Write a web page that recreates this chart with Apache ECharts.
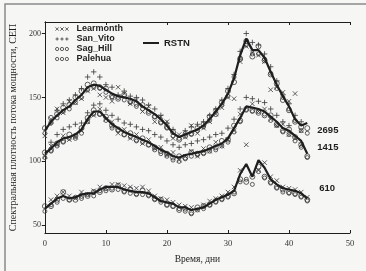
<!DOCTYPE html>
<html>
<head>
<meta charset="utf-8">
<title>RSTN</title>
<script src="https://cdn.jsdelivr.net/npm/echarts/dist/echarts.min.js"></script>
<style>
html,body{margin:0;padding:0;background:#f6f6f4;}
#chart1{width:366px;height:271px;}
</style>
</head>
<body>
<div id="chart1"></div>
<script type="text/javascript">
// день наблюдения
var days = [0,1,2,3,4,5,6,7,8,9,10,11,12,13,14,15,16,17,18,19,20,21,
            22,23,24,25,26,27,28,29,30,31,32,33,34,35,36,37,38,39,40,41,42,43];
var bands = ['2695', '1415', '610'];
var xTicks = [0, 10, 20, 30, 40, 50];
var yTicks = [50, 100, 150, 200];

// RSTN (сплошные линии)
var rstn2695 = [124,131,136,140,143,148,152,158,160,159,156,153,151,150,149,147,143,140,137,133,128,122,
                119,121,123,125,128,133,139,145,153,165,183,196,187,187,181,170,160,151,143,133,128,130];
var rstn1415 = [106,110,115,118,119,121,125,133,139,139,134,129,126,123,121,119,117,115,112,109,107,104,
                103,105,106,107,108,110,112,114,118,126,134,143,142,141,139,135,131,126,124,120,116,106];
var rstn610  = [63,67,71,73,71,72,74,75,75,78,80,80,80,78,77,76,76,75,72,69,68,67,
                64,64,62,63,64,67,70,72,74,77,90,98,88,101,95,86,82,79,78,77,75,71];

// Learmonth
var learmonth2695 = [120,133,141,138,147,146,149,155,157,152,150,147,158,153,145,148,139,143,131,135,131,118,
                     121,119,128,122,126,131,137,142,150,149,178,190,185,183,178,156,158,154,147,153,124,null];
var learmonth1415 = [104,112,113,120,117,119,124,131,136,141,133,131,122,125,118,121,114,117,110,111,105,107,
                     101,104,108,104,110,108,115,112,117,124,137,113,145,139,141,133,128,129,121,118,113,null];
var learmonth610  = [null,70,73,76,73,71,76,74,77,80,79,82,82,81,80,79,80,77,73,71,70,68,
                     66,65,64,62,66,69,71,73,76,80,93,null,null,93,99,88,85,80,79,78,76,72];
// San_Vito
var sanvito2695 = [null,130,140,145,148,152,157,166,170,166,160,158,152,155,151,150,148,144,141,136,130,125,
                   null,124,127,129,131,136,141,148,157,168,186,200,193,191,184,174,163,152,145,136,131,null];
var sanvito1415 = [null,115,121,125,127,129,130,138,144,145,140,136,133,130,129,127,125,124,121,119,116,113,
                   111,113,114,116,117,119,121,122,126,133,141,150,149,147,146,141,136,131,128,null,null,null];
// Sag_Hill
var saghill2695 = [126,134,137,142,144,150,155,160,161,158,157,151,149,152,147,145,144,138,135,131,127,123,
                   117,120,122,126,129,135,137,146,155,162,180,194,182,190,179,168,161,148,140,131,127,126];
var saghill1415 = [107,109,114,116,121,120,126,134,140,137,135,128,125,121,122,117,118,113,111,108,106,103,
                   104,103,107,106,107,111,111,116,117,128,132,141,140,138,136,136,129,124,125,119,113,104];
var saghill610  = [65,65,70,76,70,70,73,73,76,76,79,78,81,77,78,75,77,74,71,70,66,65,
                   62,63,60,64,65,66,69,71,73,75,86,84,88,96,88,84,80,78,76,75,73,70];
// Palehua
var palehua2695 = [122,130,134,139,141,146,150,156,158,157,154,150,150,148,146,143,141,139,135,130,126,120,
                   118,122,121,124,127,132,140,144,151,166,181,191,184,184,180,169,157,150,141,132,124,122];
var palehua1415 = [103,108,112,115,118,118,122,131,137,137,132,126,124,121,119,116,115,113,109,106,104,101,
                   100,102,104,105,106,108,109,112,115,123,131,140,139,139,137,132,128,123,121,116,111,103];
var palehua610  = [61,66,68,71,70,72,71,74,73,77,77,79,78,76,75,74,74,73,70,68,66,65,
                   63,61,59,62,63,66,68,70,72,76,84,86,82,92,87,83,79,76,75,74,72,69];

function pairs(vals) {
    var out = [];
    for (var i = 0; i < vals.length; i++) {
        if (vals[i] != null) out.push([days[i], vals[i]]);
    }
    return out;
}

var ink = '#1e1e1e';
var markInk = '#3a3a3a';
var serif = '"Liberation Serif", "DejaVu Serif", serif';
var sans = '"Liberation Sans", Arial, sans-serif';

var crossPath = 'path://M0,0L10,10M10,0L0,10';
var plusPath = 'path://M5,0L5,10M0,5L10,5';
var cross3 = 'path://M0,0L4,4M4,0L0,4M6,0L10,4M10,0L6,4M12,0L16,4M16,0L12,4';
var plus3 = 'path://M2,0L2,4M0,2L4,2M8,0L8,4M6,2L10,2M14,0L14,4M12,2L16,2';
var circ3 = 'path://M0,2A2,2,0,1,1,4,2A2,2,0,1,1,0,2ZM6,2A2,2,0,1,1,10,2A2,2,0,1,1,6,2ZM12,2A2,2,0,1,1,16,2A2,2,0,1,1,12,2Z';

var markStyle = {color: 'transparent', borderColor: markInk, borderWidth: 1};

var stations = [
    {name: 'Learmonth', symbol: crossPath, size: 4.5, icon: cross3,
     data: pairs(learmonth2695).concat(pairs(learmonth1415), pairs(learmonth610))},
    {name: 'San_Vito', symbol: plusPath, size: 5.5, icon: plus3,
     data: pairs(sanvito2695).concat(pairs(sanvito1415))},
    {name: 'Sag_Hill', symbol: 'circle', size: 5, icon: circ3,
     data: pairs(saghill2695).concat(pairs(saghill1415), pairs(saghill610))},
    {name: 'Palehua', symbol: 'circle', size: 4, icon: circ3,
     data: pairs(palehua2695).concat(pairs(palehua1415), pairs(palehua610))}
];

var series = [];
stations.forEach(function (s) {
    series.push({
        name: s.name, type: 'scatter', symbol: s.symbol, symbolSize: s.size,
        itemStyle: markStyle, data: s.data, silent: true, z: 2
    });
});

var lines = [rstn2695, rstn1415, rstn610];
var labelShift = [[2, 7], [2, -6], [4, -10]];
lines.forEach(function (vals, k) {
    series.push({
        name: 'RSTN', type: 'line', symbol: 'none', data: pairs(vals), z: 3,
        lineStyle: {color: ink, width: 2.2}, itemStyle: {color: ink},
        endLabel: {show: true, formatter: bands[k], offset: labelShift[k],
                   fontFamily: sans, fontWeight: 'bold', fontSize: 9.5, color: ink}
    });
});

var myChart1 = echarts.init(document.getElementById('chart1'));
myChart1.setOption({
    backgroundColor: '#f6f6f4',
    animation: false,
    grid: {left: 44, right: 16, top: 22, bottom: 38},
    graphic: [{
        type: 'polyline', silent: true,
        shape: {points: [[5, 271], [5, 4], [366, 4]]},
        style: {stroke: '#8a8a8a', lineWidth: 1.5, fill: null}
    }],
    legend: [{
        orient: 'vertical', left: 55, top: 24, padding: 0, itemGap: 0,
        itemWidth: 13, itemHeight: 4,
        textStyle: {fontFamily: sans, fontWeight: 'bold', fontSize: 9, color: ink, lineHeight: 10, padding: [0, 0, 0, 3]},
        data: stations.map(function (s) {
            return {name: s.name, icon: s.icon, itemStyle: markStyle};
        })
    }, {
        left: 143, top: 38, padding: 0, itemWidth: 16, itemHeight: 2,
        textStyle: {fontFamily: sans, fontWeight: 'bold', fontSize: 9.5, color: ink},
        data: [{name: 'RSTN', icon: 'rect', itemStyle: {color: ink}}]
    }],
    xAxis: [{
        type: 'value', min: 0, max: 50, interval: 10,
        name: 'Время, дни', nameLocation: 'middle', nameGap: 21,
        nameTextStyle: {fontFamily: serif, fontSize: 9.5, color: ink},
        axisLine: {lineStyle: {color: ink, width: 1}},
        axisTick: {inside: true, length: 3, lineStyle: {color: ink}},
        axisLabel: {fontFamily: serif, fontSize: 8.5, color: '#333', margin: 6},
        splitLine: {show: false}
    }, {
        type: 'value', position: 'top', min: 0, max: 50, interval: 10,
        axisLine: {lineStyle: {color: ink, width: 1}},
        axisTick: {inside: true, length: 3, lineStyle: {color: ink}},
        axisLabel: {show: false}, splitLine: {show: false}
    }],
    yAxis: [{
        type: 'value', min: 44, max: 209,
        name: 'Спектральная плотность потока мощности, СЕП',
        nameLocation: 'middle', nameGap: 20,
        nameTextStyle: {fontFamily: serif, fontSize: 10, color: ink},
        axisLine: {show: true, lineStyle: {color: ink, width: 1}},
        axisTick: {show: true, length: 3, customValues: yTicks, lineStyle: {color: ink}},
        axisLabel: {fontFamily: serif, fontSize: 8, color: '#333', margin: 4, customValues: yTicks},
        splitLine: {show: false}
    }, {
        type: 'value', position: 'right', min: 44, max: 209,
        axisLine: {show: true, lineStyle: {color: ink, width: 1}},
        axisTick: {show: true, inside: true, length: 3, customValues: yTicks, lineStyle: {color: ink}},
        axisLabel: {show: false}, splitLine: {show: false}
    }],
    series: series
});
</script>
</body>
</html>
